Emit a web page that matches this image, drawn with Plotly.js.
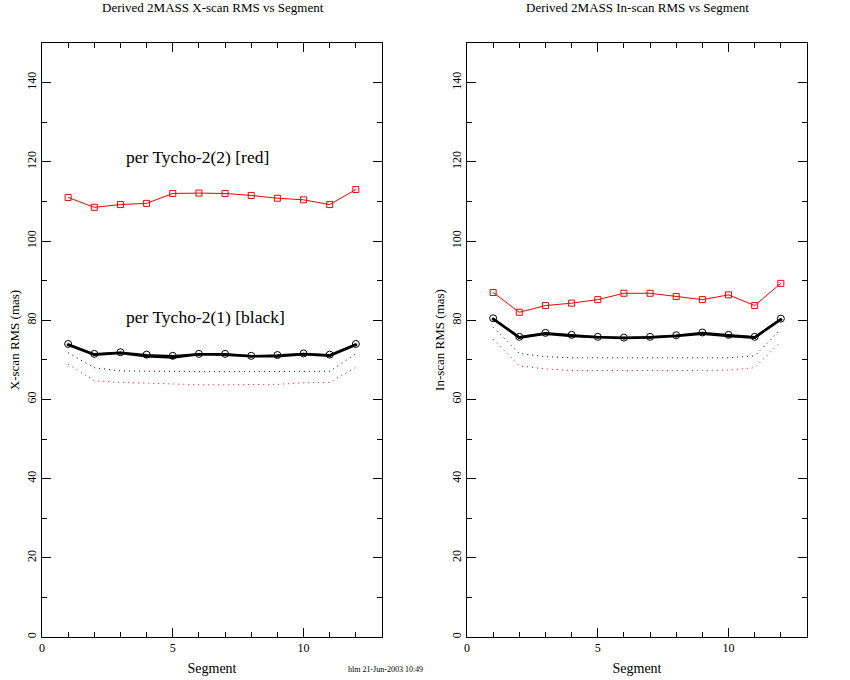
<!DOCTYPE html>
<html>
<head>
<meta charset="utf-8">
<script src="https://cdn.plot.ly/plotly-3.0.1.min.js"></script>
<style>html,body{margin:0;padding:0;background:#fff}#chart{width:850px;height:680px}</style>
</head>
<body>
<div id="chart"></div>
<script>
const segments = [1,2,3,4,5,6,7,8,9,10,11,12];

// Left panel: X-scan RMS (mas)
const xscanRed2   = [111.0,108.5,109.2,109.5,112.0,112.1,112.0,111.5,110.8,110.4,109.2,113.0];
const xscanBlack1 = [74.0,71.5,71.9,71.3,71.0,71.5,71.5,71.0,71.2,71.6,71.3,74.0];
const xscanBlack1b= [73.8,71.3,71.7,70.9,70.6,71.4,71.3,70.9,70.9,71.4,71.0,73.8];
const xscanBlackDot=[71.8,68.0,67.2,67.1,67.0,67.0,67.0,67.0,67.0,67.0,67.1,71.5];
const xscanRedDot = [68.9,64.7,64.3,64.1,64.0,63.7,63.7,63.7,63.8,64.2,64.3,68.1];

// Right panel: In-scan RMS (mas)
const inscanRed2   = [87.0,82.0,83.7,84.3,85.2,86.8,86.8,86.0,85.2,86.4,83.7,89.3];
const inscanBlack1 = [80.5,75.8,76.8,76.3,75.8,75.6,75.8,76.2,76.9,76.3,75.8,80.4];
const inscanBlack1b= [80.3,75.6,76.6,76.0,75.7,75.5,75.6,76.0,76.6,76.0,75.6,80.2];
const inscanBlackDot=[78.2,71.6,70.8,70.5,70.5,70.5,70.6,70.5,70.5,70.5,71.0,77.7];
const inscanRedDot = [75.2,68.5,67.7,67.3,67.3,67.3,67.2,67.3,67.3,67.4,68.0,74.6];

const xTickVals = [0,5,10];
const yTickVals = [0,20,40,60,80,100,120,140];

const FONT = "Liberation Serif, DejaVu Serif, serif";

function panel(xa, ya, red2, blk, blkb, blkDot, redDot) {
  return [
    {x: segments, y: redDot, xaxis: xa, yaxis: ya, mode: 'lines',
     line: {color: '#ff0000', width: 1, dash: '1px,4px'}},
    {x: segments, y: blkDot, xaxis: xa, yaxis: ya, mode: 'lines',
     line: {color: '#000000', width: 1, dash: '1px,4px'}},
    {x: segments, y: blkb, xaxis: xa, yaxis: ya, mode: 'lines+markers',
     line: {color: '#000000', width: 2.5},
     marker: {symbol: 'circle', size: 3, color: '#000000'}},
    {x: segments, y: blk, xaxis: xa, yaxis: ya, mode: 'lines+markers',
     line: {color: '#000000', width: 1.5},
     marker: {symbol: 'circle-open', size: 7, color: '#000000', line: {width: 1}}},
    {x: segments, y: red2, xaxis: xa, yaxis: ya, mode: 'lines+markers',
     line: {color: '#ff0000', width: 1},
     marker: {symbol: 'square-open', size: 6, color: '#ff0000', line: {width: 1}}}
  ];
}

const data = [
  ...panel('x', 'y', xscanRed2, xscanBlack1, xscanBlack1b, xscanBlackDot, xscanRedDot),
  ...panel('x2', 'y2', inscanRed2, inscanBlack1, inscanBlack1b, inscanBlackDot, inscanRedDot)
];

function xAxis(dom, anchor) {
  return {
    domain: dom, anchor: anchor, range: [0, 13], showgrid: false, zeroline: false,
    showline: true, linecolor: '#000', linewidth: 1, mirror: 'allticks',
    ticks: 'inside', ticklen: 9, tickcolor: '#000', tickwidth: 1,
    tickmode: 'array', tickvals: xTickVals, ticktext: xTickVals.map(String),
    minor: {tickmode: 'linear', tick0: 0, dtick: 1, ticks: 'inside', ticklen: 5, tickcolor: '#000'},
    tickfont: {family: FONT, size: 12, color: '#000'},
    title: {text: 'Segment', font: {family: FONT, size: 14, color: '#000'}, standoff: 8}
  };
}
function yAxis(dom, anchor, label) {
  return {
    domain: dom, anchor: anchor, range: [0, 150], showgrid: false, zeroline: false,
    showline: true, linecolor: '#000', linewidth: 1, mirror: 'allticks',
    ticks: 'inside', ticklen: 9, tickcolor: '#000', tickwidth: 1,
    tickmode: 'array', tickvals: yTickVals, ticktext: yTickVals.map(String),
    tickangle: -90,
    minor: {tickmode: 'linear', tick0: 0, dtick: 10, ticks: 'inside', ticklen: 5, tickcolor: '#000'},
    tickfont: {family: FONT, size: 12, color: '#000'},
    title: {text: label, font: {family: FONT, size: 13, color: '#000'}, standoff: 2}
  };
}

const yDomain = [1 - 637/680, 1 - 43/680];

const layout = {
  width: 850, height: 680,
  margin: {l: 0, r: 0, t: 0, b: 0},
  paper_bgcolor: '#fff', plot_bgcolor: '#fff',
  showlegend: false,
  font: {family: FONT, color: '#000'},
  xaxis: xAxis([42/850, 382/850], 'y'),
  yaxis: yAxis(yDomain, 'x', 'X-scan RMS (mas)'),
  xaxis2: xAxis([467/850, 807/850], 'y2'),
  yaxis2: yAxis(yDomain, 'x2', 'In-scan RMS (mas)'),
  annotations: [
    {text: 'Derived 2MASS X-scan RMS vs Segment', xref: 'paper', yref: 'paper',
     x: 213/850, y: 1 - 8/680, xanchor: 'center', yanchor: 'middle', showarrow: false,
     font: {family: FONT, size: 13, color: '#000'}},
    {text: 'Derived 2MASS In-scan RMS vs Segment', xref: 'paper', yref: 'paper',
     x: 637/850, y: 1 - 8/680, xanchor: 'center', yanchor: 'middle', showarrow: false,
     font: {family: FONT, size: 13, color: '#000'}},
    {text: 'per Tycho-2(2) [red]', xref: 'x', yref: 'y', x: 5.96, y: 121.2,
     xanchor: 'center', yanchor: 'middle', showarrow: false,
     font: {family: FONT, size: 17.5, color: '#000'}},
    {text: 'per Tycho-2(1) [black]', xref: 'x', yref: 'y', x: 6.27, y: 80.8,
     xanchor: 'center', yanchor: 'middle', showarrow: false,
     font: {family: FONT, size: 17.5, color: '#000'}},
    {text: 'hlm 21-Jun-2003 10:49', xref: 'paper', yref: 'paper',
     x: 385/850, y: 1 - 669/680, xanchor: 'center', yanchor: 'middle', showarrow: false,
     font: {family: FONT, size: 8, color: '#000'}}
  ]
};

Plotly.newPlot('chart', data, layout, {staticPlot: true, displayModeBar: false});
</script>
</body>
</html>
